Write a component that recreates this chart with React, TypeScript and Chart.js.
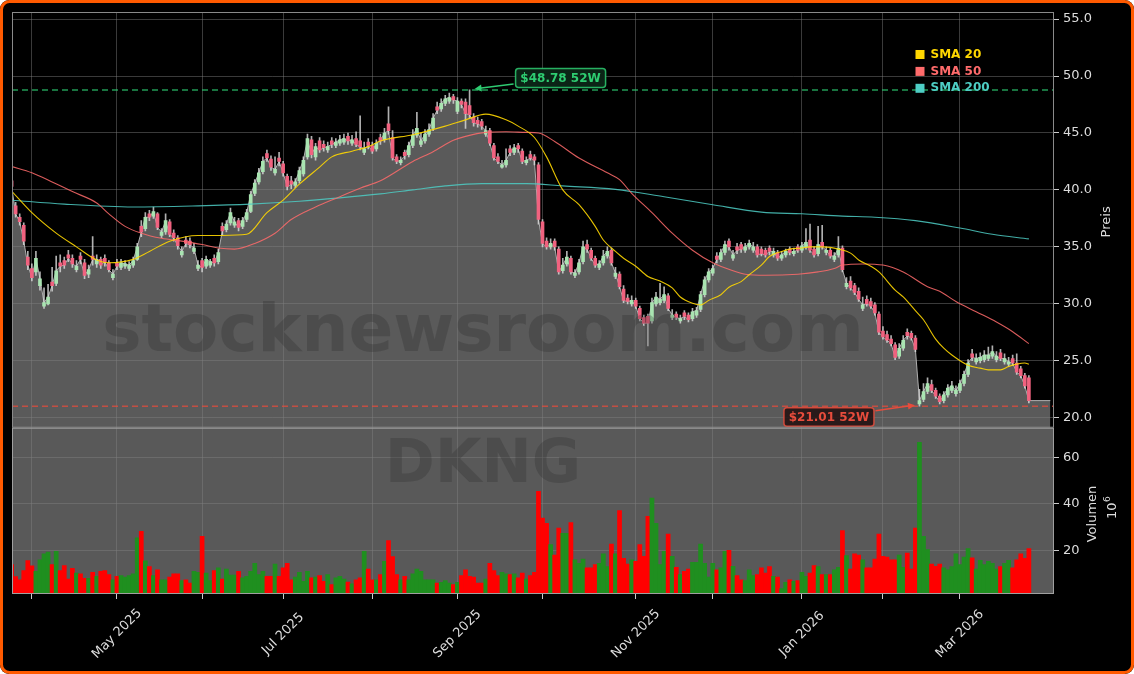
import React, { useEffect, useRef } from 'react';
import { Chart, registerables } from 'chart.js';

Chart.register(...registerables);

// ---------- data ----------
const OPEN = [
  40.8, 38.6, 37.6, 36.9, 34.1, 33.1, 32.8, 31.6, 29.8, 30.0,
  31.9, 31.8, 33.6, 33.8, 34.3, 34.0, 33.0, 34.2, 33.6, 32.6,
  34.2, 33.5, 33.9, 34.0, 33.6, 32.3, 33.6, 33.2, 33.3, 33.1,
  33.4, 33.9, 36.8, 36.6, 37.9, 37.7, 37.9, 36.0, 36.3, 37.2,
  36.2, 35.8, 34.3, 35.6, 35.5, 34.6, 33.1, 33.8, 33.3, 33.4,
  34.0, 33.7, 36.8, 36.5, 37.1, 36.9, 37.3, 36.8, 37.4, 38.1,
  39.7, 40.7, 41.6, 43.2, 42.7, 41.5, 42.8, 42.3, 41.2, 40.8,
  40.4, 40.8, 41.4, 42.9, 44.4, 42.9, 44.3, 44.0, 43.5, 44.3,
  43.9, 44.1, 44.2, 44.7, 44.1, 44.5, 44.3, 43.3, 44.2, 43.9,
  43.6, 44.6, 44.4, 45.8, 44.6, 42.9, 42.4, 43.3, 43.1, 43.9,
  44.8, 44.0, 44.3, 44.9, 45.4, 47.3, 47.1, 47.6, 47.8, 48.2,
  46.9, 47.8, 47.7, 47.4, 46.4, 46.1, 46.0, 44.9, 45.2, 43.9,
  42.9, 42.0, 42.2, 43.6, 43.3, 43.9, 43.4, 42.4, 43.1, 42.9,
  42.2, 37.2, 35.5, 35.0, 35.5, 34.8, 32.9, 33.5, 34.0, 32.5,
  32.8, 33.7, 35.2, 34.7, 34.0, 33.2, 33.6, 34.2, 34.7, 32.4,
  32.6, 31.3, 30.5, 30.0, 30.3, 29.6, 28.8, 28.9, 28.5, 30.0,
  30.1, 30.3, 30.7, 28.8, 29.1, 28.5, 29.2, 29.0, 28.7, 29.0,
  29.5, 30.8, 32.1, 32.7, 34.2, 33.9, 34.5, 35.5, 34.0, 35.0,
  35.2, 34.7, 35.0, 34.7, 35.0, 34.8, 34.7, 34.9, 34.3, 34.5,
  34.0, 34.3, 34.8, 34.4, 35.0, 34.7, 35.0, 35.6, 34.8, 34.4,
  35.4, 34.5, 34.7, 33.9, 34.3, 34.9, 31.5, 32.0, 31.6, 31.1,
  29.6, 30.4, 30.2, 29.9, 29.1, 27.6, 27.3, 26.9, 26.4, 25.4,
  26.1, 27.5, 27.4, 27.0, 21.2, 21.6, 22.3, 22.9, 22.4, 21.9,
  21.5, 22.0, 22.4, 22.1, 22.4, 23.0, 23.8, 25.6, 24.9, 25.0,
  25.1, 25.2, 25.4, 25.1, 25.7, 24.9, 24.7, 25.2, 24.8, 24.3,
  23.7, 23.5,
];
const HIGH = [
  41.0, 38.9, 37.9, 37.1, 34.6, 33.5, 34.6, 32.8, 31.4, 31.7,
  33.2, 34.2, 34.3, 34.1, 34.7, 34.3, 33.8, 34.5, 33.9, 33.4,
  35.9, 34.3, 34.1, 34.3, 33.8, 33.0, 33.9, 33.9, 33.8, 33.7,
  34.1, 35.3, 37.3, 38.0, 38.2, 38.5, 38.0, 36.6, 37.9, 37.4,
  36.5, 36.0, 35.0, 35.9, 35.8, 35.3, 33.8, 34.0, 34.2, 33.9,
  34.3, 34.8, 37.1, 37.3, 38.4, 37.6, 37.5, 37.6, 38.3, 39.9,
  40.9, 41.9, 42.9, 43.5, 43.0, 42.9, 43.3, 42.5, 41.4, 41.2,
  41.0, 42.0, 42.9, 44.9, 44.7, 44.1, 44.6, 44.3, 44.2, 44.6,
  44.5, 44.8, 44.9, 45.0, 44.8, 45.1, 46.5, 44.2, 44.5, 44.2,
  44.4, 44.9, 45.4, 47.3, 45.2, 43.1, 42.9, 43.5, 44.2, 45.3,
  46.8, 45.0, 45.3, 45.8, 46.7, 47.7, 48.0, 48.3, 48.5, 48.4,
  48.1, 48.0, 48.0, 48.78, 46.7, 46.4, 46.2, 45.6, 45.4, 44.1,
  43.2, 42.6, 43.6, 43.9, 44.0, 44.1, 43.6, 42.9, 43.4, 43.1,
  42.4, 37.4, 35.8, 35.7, 35.7, 35.0, 34.0, 34.6, 34.2, 33.0,
  33.9, 35.5, 35.6, 34.9, 34.2, 33.8, 34.7, 35.0, 34.9, 33.2,
  32.8, 31.6, 30.8, 30.7, 30.5, 29.8, 29.0, 29.1, 30.5, 31.0,
  31.8, 31.5, 30.9, 29.5, 29.3, 29.0, 29.4, 29.2, 29.6, 29.7,
  31.1, 32.4, 33.1, 33.4, 34.5, 34.8, 35.5, 35.7, 34.7, 35.3,
  35.4, 35.3, 35.6, 35.4, 35.2, 35.0, 34.9, 35.1, 34.9, 34.7,
  34.6, 34.8, 35.0, 34.9, 35.2, 35.4, 36.6, 37.0, 35.0, 36.8,
  36.9, 35.0, 34.9, 34.5, 35.9, 35.1, 32.3, 32.4, 31.8, 31.4,
  30.6, 30.7, 30.5, 30.1, 29.3, 28.0, 27.6, 27.2, 26.6, 26.5,
  27.2, 27.8, 27.6, 27.2, 22.5, 23.0, 23.5, 23.3, 22.6, 22.1,
  22.3, 22.9, 23.2, 22.8, 23.3, 24.1, 25.1, 26.0, 25.6, 25.7,
  25.9, 26.2, 26.3, 25.8, 26.0, 25.6, 25.3, 25.5, 25.6, 24.5,
  23.9, 23.7,
];
const LOW = [
  39.9, 37.6, 36.9, 35.2, 33.0, 32.0, 32.5, 31.2, 29.6, 29.9,
  31.1, 31.6, 32.8, 33.1, 33.7, 33.2, 32.8, 33.5, 32.2, 32.3,
  33.4, 33.2, 33.1, 33.3, 32.8, 32.1, 33.0, 33.0, 33.1, 32.9,
  33.2, 33.8, 35.9, 36.4, 37.3, 37.5, 36.5, 35.8, 36.1, 35.9,
  35.5, 34.8, 34.1, 35.0, 34.9, 34.4, 32.9, 32.8, 33.1, 33.2,
  33.3, 33.5, 36.0, 36.3, 36.9, 36.7, 36.4, 36.6, 37.2, 38.0,
  39.5, 40.5, 41.4, 42.5, 41.7, 41.3, 42.1, 41.2, 40.0, 40.1,
  40.2, 40.6, 41.2, 42.7, 42.8, 42.6, 43.3, 43.4, 43.3, 43.7,
  43.7, 43.9, 44.0, 44.0, 43.9, 43.8, 43.5, 43.1, 43.6, 43.2,
  43.4, 44.0, 44.2, 44.9, 42.6, 42.3, 42.2, 42.7, 42.9, 43.7,
  44.6, 43.8, 44.1, 44.7, 45.2, 46.7, 46.9, 47.4, 47.6, 47.6,
  46.7, 47.2, 45.4, 46.3, 45.6, 45.5, 45.3, 44.7, 43.9, 42.6,
  42.3, 41.9, 42.0, 43.0, 43.1, 43.3, 42.3, 42.2, 42.6, 42.2,
  37.0, 35.0, 34.8, 34.8, 34.7, 32.6, 32.7, 33.3, 32.6, 32.3,
  32.6, 33.5, 34.5, 33.8, 33.2, 33.0, 33.4, 34.0, 33.4, 32.2,
  31.3, 30.1, 30.0, 29.8, 29.6, 28.5, 28.1, 26.3, 28.3, 29.8,
  29.9, 30.1, 29.4, 28.6, 28.6, 28.3, 28.6, 28.4, 28.5, 28.8,
  29.3, 30.6, 31.9, 32.5, 33.6, 33.7, 34.3, 34.7, 33.8, 34.4,
  34.5, 34.5, 34.8, 34.5, 34.1, 34.2, 34.1, 34.3, 34.1, 33.8,
  33.8, 34.1, 34.3, 34.2, 34.5, 34.5, 34.8, 34.5, 34.1, 34.2,
  34.8, 34.3, 34.0, 33.7, 34.1, 32.8, 31.3, 31.2, 30.8, 30.2,
  29.4, 29.8, 29.6, 29.0, 27.3, 26.9, 26.6, 26.3, 25.1, 25.2,
  25.9, 26.9, 26.8, 25.8, 21.01, 21.4, 22.1, 22.2, 21.7, 21.2,
  21.3, 21.8, 22.2, 21.9, 22.2, 22.8, 23.6, 25.0, 24.7, 24.8,
  24.9, 25.0, 25.2, 24.9, 25.0, 24.7, 24.5, 24.6, 23.8, 23.5,
  22.6, 21.3,
];
const CLOSE = [
  40.3, 37.9, 37.2, 35.5, 33.4, 32.3, 34.0, 32.2, 30.1, 30.6,
  31.6, 32.9, 33.3, 33.4, 34.0, 33.5, 33.3, 33.9, 32.5, 33.0,
  33.9, 33.9, 33.4, 33.7, 33.0, 32.6, 33.3, 33.6, 33.5, 33.4,
  33.8, 35.0, 36.3, 37.6, 37.6, 38.1, 36.7, 36.3, 37.3, 36.1,
  35.8, 35.1, 34.6, 35.3, 35.2, 34.9, 33.4, 33.2, 33.9, 33.7,
  33.6, 34.5, 36.4, 37.0, 38.0, 37.2, 36.7, 37.3, 38.0, 39.6,
  40.6, 41.5, 42.5, 42.8, 42.0, 41.8, 42.5, 41.5, 40.3, 40.5,
  40.7, 41.7, 42.6, 44.5, 43.1, 43.8, 43.5, 43.7, 43.8, 44.0,
  44.2, 44.4, 44.5, 44.3, 44.4, 44.0, 43.8, 43.6, 43.9, 43.4,
  44.1, 44.3, 45.0, 45.2, 42.8, 42.5, 42.6, 43.0, 43.9, 44.8,
  45.4, 44.3, 44.9, 45.3, 46.3, 47.0, 47.6, 48.0, 48.1, 47.9,
  47.8, 47.5, 46.7, 46.6, 45.9, 45.8, 45.6, 45.2, 44.1, 42.8,
  42.5, 42.2, 42.6, 43.3, 43.7, 43.6, 42.5, 42.6, 42.8, 42.6,
  37.4, 35.3, 35.0, 35.3, 35.0, 32.8, 33.4, 34.1, 32.8, 32.7,
  33.6, 35.0, 34.8, 34.0, 33.4, 33.5, 34.2, 34.6, 33.6, 32.7,
  31.5, 30.3, 30.2, 30.3, 29.8, 28.7, 28.3, 28.3, 30.1, 30.6,
  30.4, 30.8, 29.6, 29.0, 28.8, 28.7, 28.9, 28.6, 29.3, 29.4,
  30.8, 32.1, 32.8, 33.1, 33.9, 34.5, 35.2, 35.0, 34.3, 34.7,
  34.8, 35.0, 35.3, 35.0, 34.3, 34.4, 34.3, 34.6, 34.6, 34.0,
  34.3, 34.6, 34.5, 34.6, 34.7, 35.1, 35.4, 34.7, 34.3, 35.2,
  35.0, 34.7, 34.2, 34.2, 34.9, 33.0, 31.8, 31.4, 31.0, 30.4,
  29.9, 30.0, 29.8, 29.2, 27.5, 27.1, 26.8, 26.5, 25.3, 26.1,
  26.8, 27.2, 27.0, 26.0, 21.5, 22.3, 23.0, 22.4, 21.9, 21.4,
  22.0, 22.6, 22.8, 22.4, 23.0, 23.8, 24.8, 25.3, 25.2, 25.3,
  25.5, 25.5, 25.8, 25.4, 25.2, 25.2, 24.9, 24.8, 24.0, 23.7,
  22.8, 21.5,
];
// Volume in millions
const VOLUME = [
  13.9, 8.8, 7.4, 11.4, 15.7, 13.4, 11.0, 16.0, 18.6, 19.3,
  13.9, 19.6, 11.4, 13.5, 7.7, 12.3, 10.3, 10.0, 8.0, 8.0,
  10.6, 8.9, 11.0, 11.4, 9.6, 7.4, 8.9, 9.2, 8.6, 9.2,
  10.0, 25.4, 28.3, 15.6, 13.1, 9.2, 11.7, 7.4, 7.4, 8.6,
  10.0, 10.0, 7.1, 7.4, 6.0, 11.0, 10.6, 26.1, 10.3, 7.1,
  11.4, 12.5, 7.7, 12.0, 9.4, 9.4, 11.0, 8.2, 8.9, 11.0,
  14.5, 9.6, 11.0, 8.9, 8.9, 14.2, 8.9, 12.5, 14.5, 7.4,
  8.6, 10.6, 6.7, 11.0, 8.2, 8.6, 9.2, 6.7, 9.6, 5.3,
  8.2, 8.9, 7.7, 6.4, 5.7, 7.4, 8.2, 19.6, 12.0, 7.4,
  7.4, 9.6, 15.3, 24.3, 17.4, 9.6, 7.4, 8.9, 7.4, 10.0,
  12.0, 11.0, 7.4, 7.4, 7.4, 6.0, 6.3, 7.1, 6.0, 5.3,
  6.3, 9.2, 11.7, 8.9, 8.6, 6.0, 6.0, 7.7, 14.5, 11.4,
  9.2, 10.6, 10.0, 9.6, 10.0, 8.2, 10.3, 7.7, 9.2, 10.6,
  45.4, 33.9, 31.7, 22.6, 18.0, 29.6, 27.4, 27.4, 32.0, 16.0,
  14.5, 16.3, 12.5, 12.5, 13.9, 14.5, 18.6, 13.1, 22.8, 18.6,
  37.2, 16.6, 14.2, 16.0, 15.3, 22.6, 17.5, 34.7, 42.5, 31.7,
  13.9, 19.6, 27.1, 17.5, 12.8, 9.6, 11.0, 12.0, 14.9, 14.9,
  22.8, 14.5, 8.6, 14.5, 11.7, 12.5, 19.6, 20.1, 13.2, 9.2,
  7.4, 7.1, 11.7, 9.2, 9.6, 12.5, 10.3, 13.1, 8.9, 8.6,
  3.6, 6.3, 7.4, 6.7, 7.1, 10.6, 8.9, 10.3, 13.5, 13.1,
  9.6, 9.6, 9.6, 11.7, 12.8, 28.6, 17.8, 12.0, 18.6, 18.0,
  16.0, 12.5, 12.5, 16.3, 27.1, 17.5, 17.2, 16.0, 16.0, 18.0,
  12.8, 18.9, 12.0, 29.6, 66.5, 26.1, 20.4, 14.2, 13.2, 14.2,
  12.5, 11.7, 13.1, 18.6, 13.9, 17.2, 20.8, 16.9, 12.0, 15.8,
  13.9, 15.3, 14.5, 12.0, 13.1, 14.5, 15.8, 12.5, 16.0, 18.6,
  16.6, 20.8,
];

const SMA20_INDEX = [0, 5, 11, 16, 21, 24, 30, 34, 39, 46, 52, 58, 63, 67, 71, 76, 79, 84, 88, 91, 99, 107, 112, 117, 122, 125, 129, 132, 136, 140, 144, 146, 149, 151, 154, 157, 160, 163, 165, 168, 170, 172, 175, 177, 180, 182, 185, 187, 190, 192, 195, 197, 200, 202, 204, 207, 209, 212, 214, 218, 220, 223, 225, 228, 230, 232, 236, 239, 241, 244, 246, 248, 250, 251];
const SMA20_VALUE = [39.9, 38.0, 36.2, 35.0, 33.85, 33.6, 33.9, 34.6, 35.5, 36.0, 36.0, 36.1, 38.0, 39.1, 40.5, 42.0, 42.9, 43.4, 43.8, 44.3, 44.85, 45.6, 46.15, 46.65, 46.15, 45.6, 44.6, 42.9, 40.0, 38.7, 36.8, 35.6, 34.6, 34.0, 33.3, 32.4, 32.0, 31.4, 30.6, 30.05, 29.9, 30.3, 30.8, 31.45, 31.95, 32.55, 33.4, 34.15, 34.6, 34.8, 34.9, 35.0, 35.0, 34.95, 34.8, 34.45, 33.85, 33.3, 32.8, 31.2, 30.6, 29.4, 28.6, 26.9, 26.1, 25.5, 24.6, 24.35, 24.2, 24.2, 24.5, 24.7, 24.8, 24.7];
const SMA50_INDEX = [0, 5, 10, 15, 21, 24, 28, 32, 37, 42, 47, 51, 55, 60, 65, 69, 75, 81, 86, 91, 99, 104, 109, 112, 117, 122, 127, 130, 134, 140, 147, 150, 153, 158, 163, 168, 173, 178, 181, 186, 194, 199, 203, 205, 210, 215, 220, 226, 229, 233, 238, 243, 247, 251];
const SMA50_VALUE = [42.05, 41.5, 40.7, 39.85, 38.85, 37.9, 36.8, 36.2, 35.75, 35.5, 35.2, 34.9, 34.8, 35.3, 36.2, 37.4, 38.5, 39.4, 40.15, 40.8, 42.5, 43.35, 44.35, 44.7, 45.05, 45.1, 45.05, 45.0, 44.25, 42.8, 41.5, 40.9, 39.7, 38.0, 36.2, 34.7, 33.6, 32.9, 32.6, 32.5, 32.6, 32.8, 33.1, 33.4, 33.5, 33.4, 32.8, 31.5, 31.1, 30.2, 29.3, 28.4, 27.55, 26.5];
const SMA200_INDEX = [0, 13, 30, 46, 59, 71, 81, 91, 99, 107, 116, 127, 136, 149, 161, 173, 185, 195, 205, 213, 223, 234, 242, 251];
const SMA200_VALUE = [39.1, 38.75, 38.5, 38.6, 38.75, 39.0, 39.3, 39.65, 40.0, 40.35, 40.55, 40.55, 40.35, 40.05, 39.4, 38.7, 38.05, 37.9, 37.7, 37.6, 37.3, 36.65, 36.1, 35.7];

const MONTH_TICK_INDEX = [5, 26, 47, 67, 89, 110, 131, 154, 173, 195, 215, 234];
const MONTH_TICK_LABELS = ['', 'May 2025', '', 'Jul 2025', '', 'Sep 2025', '', 'Nov 2025', '', 'Jan 2026', '', 'Mar 2026'];
const PRICE_TICKS = [20, 25, 30, 35, 40, 45, 50, 55];
const VOLUME_TICKS = [20, 40, 60];
const HIGH_52W = 48.78;
const LOW_52W = 21.01;
const FILL_END_INDEX = 256.3;
const LEGEND_LABELS = ['SMA 20', 'SMA 50', 'SMA 200'];
const WATERMARK_SITE = 'stocknewsroom.com';
const WATERMARK_TICKER = 'DKNG';

// ---------- styles ----------
const W = 1134;
const H = 674;
const FONT = '"DejaVu Sans", "Liberation Sans", sans-serif';
const GRID = 'rgba(128,128,128,0.45)';
const TEXT = '#dddddd';
const UP = '#a9e4b1';
const DOWN = '#f0627f';
const VOL_UP = '#1f8f1f';
const VOL_DOWN = '#ff0000';
const SMA_COLORS = ['#FFD700', '#FF6B6B', '#4ECDC4'];

function drawArrow(ctx: any, x1: number, y1: number, x2: number, y2: number, color: string) {
  const ang = Math.atan2(y2 - y1, x2 - x1);
  const head = 7;
  ctx.strokeStyle = color;
  ctx.fillStyle = color;
  ctx.lineWidth = 1.5;
  ctx.setLineDash([]);
  ctx.beginPath();
  ctx.moveTo(x1, y1);
  ctx.lineTo(x2 - Math.cos(ang) * head * 0.7, y2 - Math.sin(ang) * head * 0.7);
  ctx.stroke();
  const bx = x2 - head * Math.cos(ang);
  const by = y2 - head * Math.sin(ang);
  ctx.beginPath();
  ctx.moveTo(x2, y2);
  ctx.lineTo(bx + 3.5 * Math.sin(ang), by - 3.5 * Math.cos(ang));
  ctx.lineTo(bx - 3.5 * Math.sin(ang), by + 3.5 * Math.cos(ang));
  ctx.closePath();
  ctx.fill();
}

function drawLabelBox(ctx: any, left: number, top: number, w: number, h: number, text: string, fill: string, stroke: string, color: string) {
  ctx.setLineDash([]);
  ctx.beginPath();
  ctx.roundRect(left, top, w, h, 3);
  ctx.fillStyle = fill;
  ctx.fill();
  ctx.lineWidth = 1.5;
  ctx.strokeStyle = stroke;
  ctx.stroke();
  ctx.fillStyle = color;
  ctx.font = `bold 12px ${FONT}`;
  ctx.textAlign = 'center';
  ctx.textBaseline = 'middle';
  ctx.fillText(text, left + w / 2, top + h / 2 + 0.5);
}

const panelPlugin = {
  id: 'dkngPanels',
  beforeDraw(chart: any) {
    const { ctx, chartArea: ca } = chart;
    const y2 = chart.scales.y2;
    ctx.save();
    ctx.fillStyle = '#ffffff';
    ctx.fillRect(0, 0, W, H);
    ctx.fillStyle = '#000000';
    ctx.beginPath();
    ctx.roundRect(0, 0, W, H, 9);
    ctx.fill();
    ctx.fillStyle = '#595959';
    ctx.fillRect(ca.left, y2.top, ca.right - ca.left, y2.bottom - y2.top);
    ctx.restore();
  },
  afterDatasetsDraw(chart: any) {
    const { ctx, chartArea: ca } = chart;
    const x = chart.scales.x;
    const y = chart.scales.y;
    ctx.save();
    // watermark
    ctx.fillStyle = 'rgba(40,40,40,0.26)';
    ctx.textAlign = 'center';
    ctx.textBaseline = 'alphabetic';
    ctx.font = `bold 66px ${FONT}`;
    ctx.fillText(WATERMARK_SITE, 483, 351);
    ctx.font = `bold 60px ${FONT}`;
    ctx.fillText(WATERMARK_TICKER, 483, 482);

    // 52 week lines
    const yHi = y.getPixelForValue(HIGH_52W);
    const yLo = y.getPixelForValue(LOW_52W);
    ctx.lineWidth = 1.5;
    ctx.setLineDash([6, 4]);
    ctx.strokeStyle = 'rgba(46,204,113,0.75)';
    ctx.beginPath();
    ctx.moveTo(ca.left, yHi);
    ctx.lineTo(ca.right, yHi);
    ctx.stroke();
    ctx.strokeStyle = 'rgba(231,76,60,0.75)';
    ctx.beginPath();
    ctx.moveTo(ca.left, yLo);
    ctx.lineTo(ca.right, yLo);
    ctx.stroke();

    // high annotation
    const hiIdx = HIGH.indexOf(Math.max(...HIGH));
    const hx = x.getPixelForValue(hiIdx);
    const hiBoxL = hx + 46;
    const hiBoxT = yHi - 21.5;
    drawArrow(ctx, hiBoxL - 2, yHi - 6, hx + 5, yHi - 1, '#2ecc71');
    drawLabelBox(ctx, hiBoxL, hiBoxT, 90, 19, `$${HIGH_52W.toFixed(2)} 52W`, '#0b2416', 'rgba(46,204,113,0.85)', '#2ecc71');

    // low annotation
    const loIdx = LOW.indexOf(Math.min(...LOW));
    const lx = x.getPixelForValue(loIdx);
    const loBoxR = lx - 45.5;
    const loBoxT = yLo + 1.5;
    drawArrow(ctx, loBoxR + 1.5, yLo + 4.5, lx - 4.5, yLo - 1, '#e74c3c');
    drawLabelBox(ctx, loBoxR - 90, loBoxT, 90, 18.5, `$${LOW_52W.toFixed(2)} 52W`, 'rgba(30,10,10,0.8)', 'rgba(231,76,60,0.85)', '#e74c3c');

    // legend
    ctx.setLineDash([]);
    ctx.font = `bold 12px ${FONT}`;
    ctx.textAlign = 'left';
    ctx.textBaseline = 'middle';
    LEGEND_LABELS.forEach((lab, k) => {
      const cy = 54.5 + k * 16.9;
      ctx.fillStyle = SMA_COLORS[k];
      ctx.fillRect(915.5, cy - 4.5, 9, 9);
      ctx.fillText(lab, 930.5, cy);
    });
    ctx.restore();
  },
  afterDraw(chart: any) {
    const { ctx, chartArea: ca } = chart;
    const x = chart.scales.x;
    const y = chart.scales.y;
    const y2 = chart.scales.y2;
    ctx.save();
    // spines
    ctx.setLineDash([]);
    ctx.lineWidth = 1;
    ctx.strokeStyle = '#8a8a8a';
    ctx.strokeRect(ca.left + 0.5, y.top + 0.5, ca.right - ca.left - 1, y.bottom - y.top - 1);
    ctx.strokeStyle = '#a0a0a0';
    ctx.strokeRect(ca.left + 0.5, y2.top + 0.5, ca.right - ca.left - 1, y2.bottom - y2.top - 1);

    // x labels (rotated, centred on tick)
    ctx.fillStyle = TEXT;
    ctx.font = `13px ${FONT}`;
    ctx.textAlign = 'center';
    ctx.textBaseline = 'middle';
    MONTH_TICK_INDEX.forEach((v, k) => {
      const lab = MONTH_TICK_LABELS[k];
      if (!lab) return;
      const px = x.getPixelForValue(v);
      ctx.save();
      ctx.translate(px, 634);
      ctx.rotate(-Math.PI / 4);
      ctx.fillText(lab, 0, 0);
      ctx.restore();
    });

    // axis titles
    ctx.save();
    ctx.translate(1107, (y.top + y.bottom) / 2 + 2);
    ctx.rotate(-Math.PI / 2);
    ctx.fillText('Preis', 0, 0);
    ctx.restore();

    ctx.save();
    ctx.translate(1093, 514);
    ctx.rotate(-Math.PI / 2);
    ctx.fillText('Volumen', 0, 0);
    ctx.restore();

    ctx.save();
    ctx.translate(1113, 519);
    ctx.rotate(-Math.PI / 2);
    ctx.textAlign = 'left';
    ctx.fillText('10', 0, 0);
    ctx.font = `9px ${FONT}`;
    ctx.fillText('6', 17, -5);
    ctx.restore();

    // orange outer frame
    ctx.strokeStyle = '#ff5a00';
    ctx.lineWidth = 3;
    ctx.beginPath();
    ctx.roundRect(1.5, 1.5, W - 3, H - 3, 8);
    ctx.stroke();
    ctx.restore();
  },
};

export default function App() {
  const ref = useRef<HTMLCanvasElement | null>(null);

  useEffect(() => {
    const canvas = ref.current;
    if (!canvas) return;
    Chart.defaults.font.family = FONT;

    const isUp = CLOSE.map((c, i) => c >= OPEN[i]);
    const bodyData = CLOSE.map((c, i) => ({ x: i, y: [OPEN[i], c] }));
    const wickData = CLOSE.map((_, i) => ({ x: i, y: [LOW[i], HIGH[i]] }));
    const volData = VOLUME.map((v, i) => ({ x: i, y: v }));
    const fillData = CLOSE.map((c, i) => ({ x: i, y: c }));
    fillData.push({ x: FILL_END_INDEX, y: CLOSE[CLOSE.length - 1] });
    const sma = (idx: number[], val: number[]) => idx.map((v, k) => ({ x: v, y: val[k] }));

    const lineCommon = {
      type: 'line' as const,
      yAxisID: 'y',
      pointRadius: 0,
      borderWidth: 1.1,
      tension: 0.4,
      cubicInterpolationMode: 'monotone' as const,
      fill: false,
    };

    const chart = new Chart(canvas, {
      type: 'bar',
      data: {
        datasets: [
          { ...lineCommon, label: 'SMA 20', data: sma(SMA20_INDEX, SMA20_VALUE), borderColor: 'rgba(255,215,0,0.9)' },
          { ...lineCommon, label: 'SMA 50', data: sma(SMA50_INDEX, SMA50_VALUE), borderColor: 'rgba(255,107,107,0.85)' },
          { ...lineCommon, label: 'SMA 200', data: sma(SMA200_INDEX, SMA200_VALUE), borderColor: 'rgba(78,205,196,0.85)' },
          {
            type: 'bar',
            label: 'body',
            yAxisID: 'y',
            data: bodyData as any,
            grouped: false,
            barThickness: 3,
            minBarLength: 1,
            backgroundColor: isUp.map((u) => (u ? UP : DOWN)),
            borderWidth: 0,
          },
          {
            type: 'bar',
            label: 'wick',
            yAxisID: 'y',
            data: wickData as any,
            grouped: false,
            barThickness: 1,
            backgroundColor: 'rgba(220,220,220,0.8)',
            borderWidth: 0,
          },
          {
            type: 'line',
            label: 'close',
            yAxisID: 'y',
            data: fillData,
            pointRadius: 0,
            borderWidth: 1,
            borderColor: 'rgba(190,190,190,0.9)',
            backgroundColor: 'rgba(128,128,128,0.7)',
            fill: 'start',
            tension: 0,
          },
          {
            type: 'bar',
            label: 'volume',
            yAxisID: 'y2',
            data: volData as any,
            grouped: false,
            barPercentage: 1,
            categoryPercentage: 1,
            backgroundColor: isUp.map((u) => (u ? VOL_UP : VOL_DOWN)),
            borderWidth: 0,
          },
        ] as any,
      },
      options: {
        responsive: false,
        animation: false,
        devicePixelRatio: 1,
        events: [],
        layout: { padding: { left: 12, top: 12, right: 0, bottom: 0 } },
        plugins: { legend: { display: false }, tooltip: { enabled: false } },
        scales: {
          x: {
            type: 'linear',
            position: 'bottom',
            offset: false,
            min: 0.1,
            max: 257.2,
            afterBuildTicks: (s: any) => {
              s.ticks = MONTH_TICK_INDEX.map((v) => ({ value: v }));
            },
            afterFit: (s: any) => {
              s.height = 80;
            },
            ticks: { display: false },
            grid: { offset: false, color: GRID, tickLength: 5, tickColor: '#cccccc', lineWidth: 1 },
            border: { display: false },
          },
          y: {
            type: 'linear',
            position: 'right',
            stack: 'panes',
            stackWeight: 2.5,
            min: 19.12,
            max: 55.62,
            afterBuildTicks: (s: any) => {
              s.ticks = PRICE_TICKS.map((v) => ({ value: v }));
            },
            afterFit: (s: any) => {
              s.width = 80;
            },
            ticks: {
              color: TEXT,
              font: { size: 13 },
              padding: 4,
              callback: (v: any) => Number(v).toFixed(1),
            },
            grid: { color: GRID, tickLength: 5, tickColor: '#cccccc' },
            border: { display: false },
          },
          y2: {
            type: 'linear',
            position: 'right',
            stack: 'panes',
            stackWeight: 1,
            min: 1.3,
            max: 72.8,
            afterBuildTicks: (s: any) => {
              s.ticks = VOLUME_TICKS.map((v) => ({ value: v }));
            },
            afterFit: (s: any) => {
              s.width = 80;
            },
            ticks: {
              color: TEXT,
              font: { size: 13 },
              padding: 4,
              callback: (v: any) => String(v),
            },
            grid: { color: GRID, tickLength: 5, tickColor: '#cccccc' },
            border: { display: false },
          },
        },
      } as any,
      plugins: [panelPlugin],
    });

    return () => chart.destroy();
  }, []);

  return (
    <div style={{ position: 'absolute', left: 0, top: 0, width: W, height: H }}>
      <canvas ref={ref} width={W} height={H} style={{ display: 'block', width: W, height: H }} />
    </div>
  );
}
